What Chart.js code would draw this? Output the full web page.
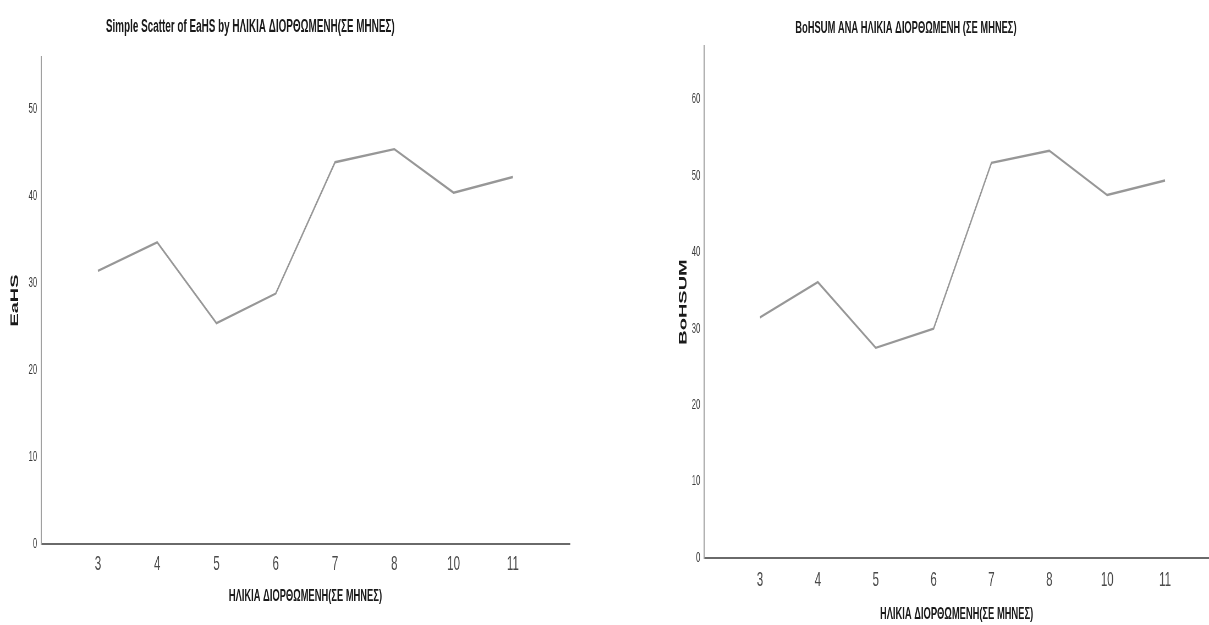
<!DOCTYPE html>
<html>
<head>
<meta charset="utf-8">
<script src="https://cdn.jsdelivr.net/npm/chart.js@4/dist/chart.umd.min.js"></script>
<style>
  html, body { margin: 0; padding: 0; background: #ffffff; }
  body { width: 1209px; height: 625px; position: relative; overflow: hidden; }
  .wrap { position: absolute; top: 0; transform: scaleX(0.55); transform-origin: 0 0; }
  canvas { display: block; }
</style>
</head>
<body>
<div class="wrap" id="w1" style="left:0px;"><canvas id="c1" width="1098" height="625"></canvas></div>
<div class="wrap" id="w2" style="left:604px;"><canvas id="c2" width="1100" height="625"></canvas></div>
<script>
// ---- data ----
const categories = ['3', '4', '5', '6', '7', '8', '10', '11'];
const eahsValues = [31.4, 34.7, 25.4, 28.8, 43.9, 45.4, 40.4, 42.2];
const bohsumValues = [31.5, 36.1, 27.5, 30.0, 51.7, 53.3, 47.5, 49.4];
const leftTitle = 'Simple Scatter of EaHS by ΗΛΙΚΙΑ ΔΙΟΡΘΩΜΕΝΗ(ΣΕ ΜΗΝΕΣ)';
const rightTitle = 'BoHSUM ΑΝΑ ΗΛΙΚΙΑ ΔΙΟΡΘΩΜΕΝΗ (ΣΕ ΜΗΝΕΣ)';
const xAxisTitle = 'ΗΛΙΚΙΑ ΔΙΟΡΘΩΜΕΝΗ(ΣΕ ΜΗΝΕΣ)';
const leftYTitle = 'EaHS';
const rightYTitle = 'BoHSUM';

const FONT = "'Liberation Sans', Arial, 'DejaVu Sans', sans-serif";

const fixedTitle = {
  id: 'fixedTitle',
  afterDraw(chart, args, opts) {
    const ctx = chart.ctx;
    ctx.save();
    ctx.font = 'bold ' + opts.size + 'px ' + FONT;
    ctx.fillStyle = '#1a1a1a';
    ctx.textAlign = 'center';
    ctx.textBaseline = 'middle';
    ctx.fillText(opts.text, opts.x, opts.y);
    ctx.restore();
  }
};

function makeChart(id, cfg) {
  const pts = cfg.values.map((v, i) => ({ x: i, y: v }));
  return new Chart(document.getElementById(id), {
    type: 'line',
    data: {
      datasets: [{
        data: pts,
        borderColor: '#979797',
        borderWidth: 2.4,
        pointRadius: 0,
        pointHoverRadius: 0,
        tension: 0,
        fill: false
      }]
    },
    plugins: [fixedTitle],
    options: {
      responsive: false,
      animation: false,
      events: [],
      layout: { padding: cfg.padding },
      plugins: {
        legend: { display: false },
        tooltip: { enabled: false },
        title: { display: false },
        fixedTitle: cfg.title
      },
      scales: {
        x: {
          type: 'linear',
          min: cfg.xMin,
          max: cfg.xMax,
          grid: { display: false, drawTicks: false },
          border: { display: true, color: '#6a6a6a', width: 2 },
          ticks: {
            stepSize: 1,
            includeBounds: false,
            autoSkip: false,
            maxRotation: 0,
            padding: cfg.xTickPad,
            color: '#4a4a4a',
            font: { family: FONT, size: 21 },
            callback: (v) => (Number.isInteger(v) && v >= 0 && v < categories.length) ? categories[v] : ''
          },
          title: {
            display: true,
            text: xAxisTitle,
            color: '#1a1a1a',
            font: { family: FONT, size: 17, weight: 'bold' },
            padding: { top: 0, bottom: cfg.xTitlePad }
          },
          afterFit: (s) => { s.height = cfg.xHeight; }
        },
        y: {
          min: 0,
          max: cfg.yMax,
          grid: { display: false, drawTicks: false },
          border: { display: true, color: '#a0a0a0', width: 2 },
          ticks: {
            stepSize: 10,
            includeBounds: false,
            padding: 7,
            color: '#3c3c3c',
            font: { family: FONT, size: 14 }
          },
          title: {
            display: true,
            text: cfg.yTitle,
            color: '#1a1a1a',
            font: { family: FONT, size: 20, weight: 'bold' },
            padding: { top: cfg.yTitlePad, bottom: 0 }
          },
          afterFit: (s) => { s.width = cfg.yWidth; }
        }
      }
    }
  });
}

makeChart('c1', {
  values: eahsValues,
  yMax: 56,
  yTitle: leftYTitle,
  xMin: -0.96, xMax: 7.96,
  padding: { left: 0, right: 62, top: 57, bottom: 0 },
  yWidth: 74.5, yTitlePad: 15,
  xHeight: 81, xTickPad: 8, xTitlePad: 18,
  title: { text: leftTitle, x: 455, y: 27, size: 18 }
});

makeChart('c2', {
  values: bohsumValues,
  yMax: 67,
  yTitle: rightYTitle,
  xMin: -0.966, xMax: 7.76,
  padding: { left: 120, right: 0, top: 46, bottom: 0 },
  yWidth: 62, yTitlePad: 12,
  xHeight: 67, xTickPad: 10, xTitlePad: 0,
  title: { text: rightTitle, x: 549, y: 28, size: 17 }
});
</script>
</body>
</html>
